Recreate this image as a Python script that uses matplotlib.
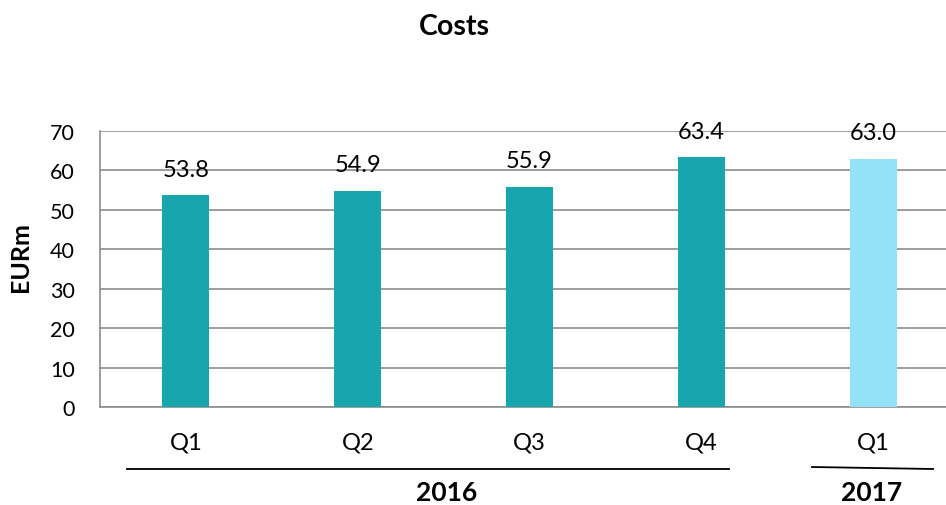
import matplotlib.pyplot as plt
import numpy as np

quarters = ['Q1', 'Q2', 'Q3', 'Q4', 'Q1']
costs = [53.8, 54.9, 55.9, 63.4, 63.0]
bar_colors = ['#17a6ae', '#17a6ae', '#17a6ae', '#17a6ae', '#93e2f7']
years = ['2016', '2017']

plt.rcParams['font.family'] = ['Lato', 'DejaVu Sans']

W, H = 946, 506
fig = plt.figure(figsize=(W / 100, H / 100), dpi=100)
# plot area: x 100..959 px, y 132..408 px
ax = fig.add_axes([100 / W, 1 - 408 / H, 859 / W, 276 / H])

x = np.arange(len(costs))
bars = ax.bar(x, costs, width=0.274, color=bar_colors, zorder=3)
for xi, v in zip(x, costs):
    ax.annotate(f'{v:.1f}', (xi, v), xytext=(0, 11), textcoords='offset points',
                ha='center', va='bottom', fontsize=17)

ax.set_xlim(-0.5, len(costs) - 0.5)
ax.set_ylim(0, 70)
ax.set_yticks(range(0, 71, 10))
ax.yaxis.grid(True, color='#8c8c8c', linewidth=1.2, zorder=0)
ax.tick_params(axis='y', length=0, labelsize=15.5, pad=18)
ax.set_xticks([])
for s in ['top', 'right']:
    ax.spines[s].set_visible(False)
for s in ['left', 'bottom']:
    ax.spines[s].set_color('#8c8c8c')
    ax.spines[s].set_linewidth(1.2)

# category labels below axis
for xi, q in zip(x, quarters):
    ax.annotate(q, (xi, 0), xytext=(0, -25), textcoords='offset points',
                ha='center', va='center', fontsize=17, annotation_clip=False)

# year group lines and labels (figure pixel coordinates)
def px(xp, yp):
    return xp / W, 1 - yp / H

fig.add_artist(plt.Line2D([127 / W, 729 / W], [1 - 470 / H, 1 - 470 / H], color='black', lw=1.3))
fig.add_artist(plt.Line2D([812 / W, 933 / W], [1 - 468 / H, 1 - 470 / H], color='black', lw=1.3))
fig.text(*px(447, 493), years[0], ha='center', va='center', fontsize=19, fontweight='bold')
fig.text(*px(872, 493), years[1], ha='center', va='center', fontsize=19, fontweight='bold')

fig.text(*px(21, 257), 'EURm', rotation=90, ha='center', va='center', fontsize=18, fontweight='bold')
fig.text(*px(454, 27), 'Costs', ha='center', va='center', fontsize=20.5, fontweight='bold')

fig.savefig('out.png', dpi=100)
